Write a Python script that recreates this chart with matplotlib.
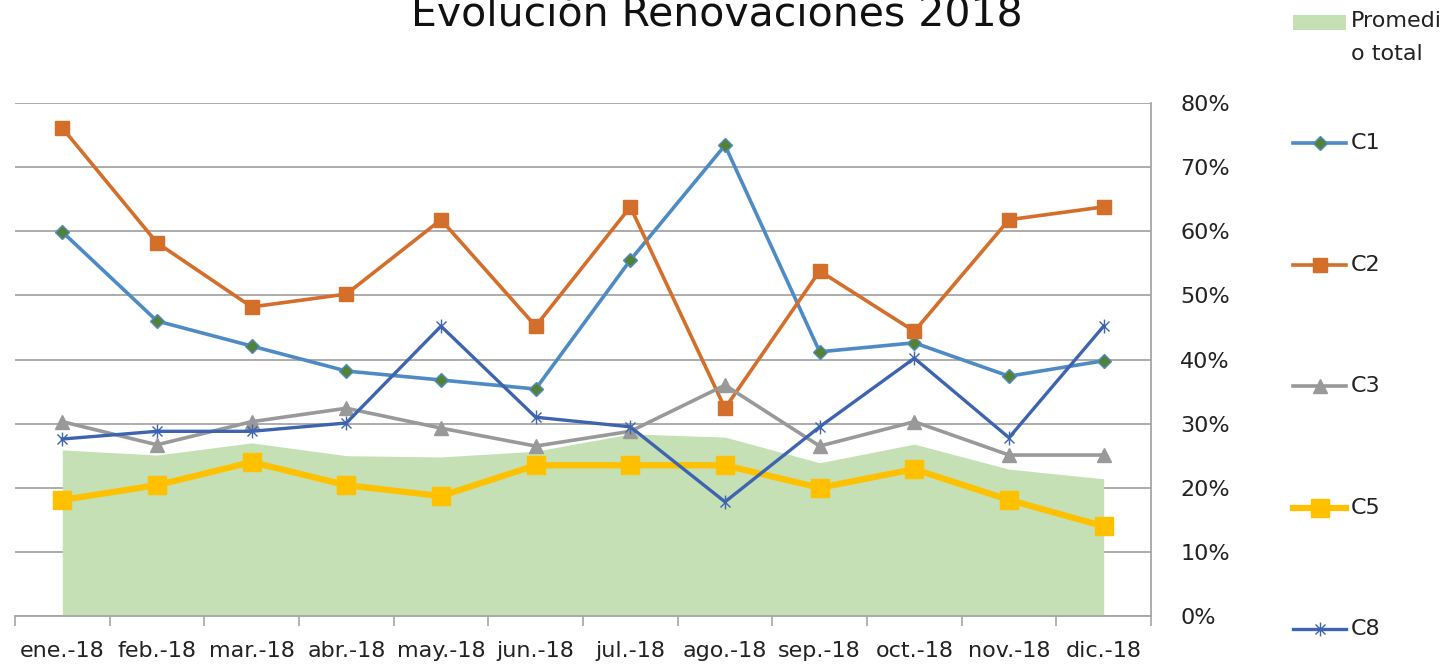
import numpy as np
import matplotlib.pyplot as plt
from matplotlib.lines import Line2D
from matplotlib.patches import Rectangle
from matplotlib.path import Path

# Datos (fracciones)
meses = ['ene.-18', 'feb.-18', 'mar.-18', 'abr.-18', 'may.-18', 'jun.-18',
         'jul.-18', 'ago.-18', 'sep.-18', 'oct.-18', 'nov.-18', 'dic.-18']

promedio = [0.259, 0.251, 0.270, 0.250, 0.248, 0.257, 0.284, 0.279, 0.239, 0.268, 0.229, 0.214]
c1 = [0.599, 0.460, 0.421, 0.382, 0.368, 0.354, 0.555, 0.734, 0.412, 0.426, 0.374, 0.398]
c2 = [0.761, 0.582, 0.482, 0.502, 0.618, 0.452, 0.638, 0.324, 0.538, 0.444, 0.618, 0.638]
c3 = [0.303, 0.267, 0.303, 0.324, 0.293, 0.265, 0.288, 0.360, 0.265, 0.303, 0.251, 0.251]
c5 = [0.181, 0.204, 0.240, 0.204, 0.187, 0.235, 0.235, 0.235, 0.200, 0.229, 0.181, 0.140]
c8 = [0.276, 0.288, 0.288, 0.301, 0.452, 0.310, 0.295, 0.178, 0.295, 0.402, 0.278, 0.452]

y_ticks = np.arange(0, 0.81, 0.1)

# marcador asterisco tipo Excel
star = Path([(0, -1), (0, 1), (-0.72, -0.72), (0.72, 0.72), (-0.72, 0.72), (0.72, -0.72)],
            [Path.MOVETO, Path.LINETO, Path.MOVETO, Path.LINETO, Path.MOVETO, Path.LINETO])

series = [
    ('C1', c1, dict(color='#4E8BC4', lw=2.6, marker='D', ms=7.5, mfc='#548235', mec='#4E8BC4', mew=1.0)),
    ('C2', c2, dict(color='#D46E2B', lw=2.6, marker='s', ms=10, mfc='#D46E2B', mec='#D46E2B')),
    ('C3', c3, dict(color='#999999', lw=2.6, marker='^', ms=10, mfc='#999999', mec='#999999')),
    ('C5', c5, dict(color='#FFC000', lw=4.5, marker='s', ms=12.5, mfc='#FFC000', mec='#FFC000')),
    ('C8', c8, dict(color='#3E64B0', lw=2.4, marker=star, ms=10, mfc='none', mec='#3E64B0', mew=1.0)),
]

W, H = 1447, 666
fig = plt.figure(figsize=(W / 100, H / 100), dpi=100)
ax = fig.add_axes([15 / W, 1 - 616 / H, (1151 - 15) / W, (616 - 103) / H])

x = np.arange(len(meses))
ax.fill_between(x, 0, promedio, color='#C5E0B4', lw=0, zorder=1)
for name, vals, st in series:
    ax.plot(x, vals, zorder=3, clip_on=False, **st)

ax.set_xlim(-0.5, len(meses) - 0.5)
ax.set_ylim(0, 0.8)
ax.set_yticks(y_ticks)
ax.set_yticklabels([f'{int(round(v * 100))}%' for v in y_ticks])
ax.yaxis.tick_right()
ax.tick_params(axis='y', length=0, pad=21, labelsize=16, labelcolor='#222222')
ax.grid(axis='y', color='#A6A6A6', lw=1.3, zorder=0)
ax.set_axisbelow(True)

ax.set_xticks(x)
ax.set_xticklabels(meses)
ax.set_xticks(np.arange(-0.5, len(meses)), minor=True)
ax.tick_params(axis='x', which='major', length=0, pad=18, labelsize=16, labelcolor='#222222')
ax.tick_params(axis='x', which='minor', length=7, width=1.2, color='#A6A6A6')

for s in ['top', 'left']:
    ax.spines[s].set_visible(False)
for s in ['bottom', 'right']:
    ax.spines[s].set_color('#A6A6A6')
    ax.spines[s].set_linewidth(1.3)

# titulo (recortado por arriba como en el original)
fig.text(717 / W, 1 - 25 / H, 'Evolución Renovaciones 2018', ha='center', va='baseline',
         fontsize=29.5, color='#111111')

# leyenda a la derecha
def fx(px):
    return px / W

def fy(py):
    return 1 - py / H

fig.add_artist(Rectangle((fx(1293), fy(30)), fx(1346) - fx(1293), fy(15) - fy(30),
                         transform=fig.transFigure, color='#C5E0B4', lw=0))
fig.text(fx(1351), fy(11), 'Promedi\no total', ha='left', va='top', fontsize=16,
         color='#222222', linespacing=1.8)

leg_y = [143, 265, 386, 508, 629]
for (name, vals, st), py in zip(series, leg_y):
    line_st = {k: v for k, v in st.items() if not k.startswith('m')}
    fig.add_artist(Line2D([fx(1293), fx(1346)], [fy(py), fy(py)],
                          transform=fig.transFigure, **line_st))
    mark_st = {k: v for k, v in st.items() if k not in ('lw', 'color')}
    fig.add_artist(Line2D([(fx(1293) + fx(1346)) / 2], [fy(py)], transform=fig.transFigure,
                          ls='none', **mark_st))
    fig.text(fx(1351), fy(py), name, ha='left', va='center', fontsize=16, color='#222222')

fig.savefig('out.png', dpi=100)
